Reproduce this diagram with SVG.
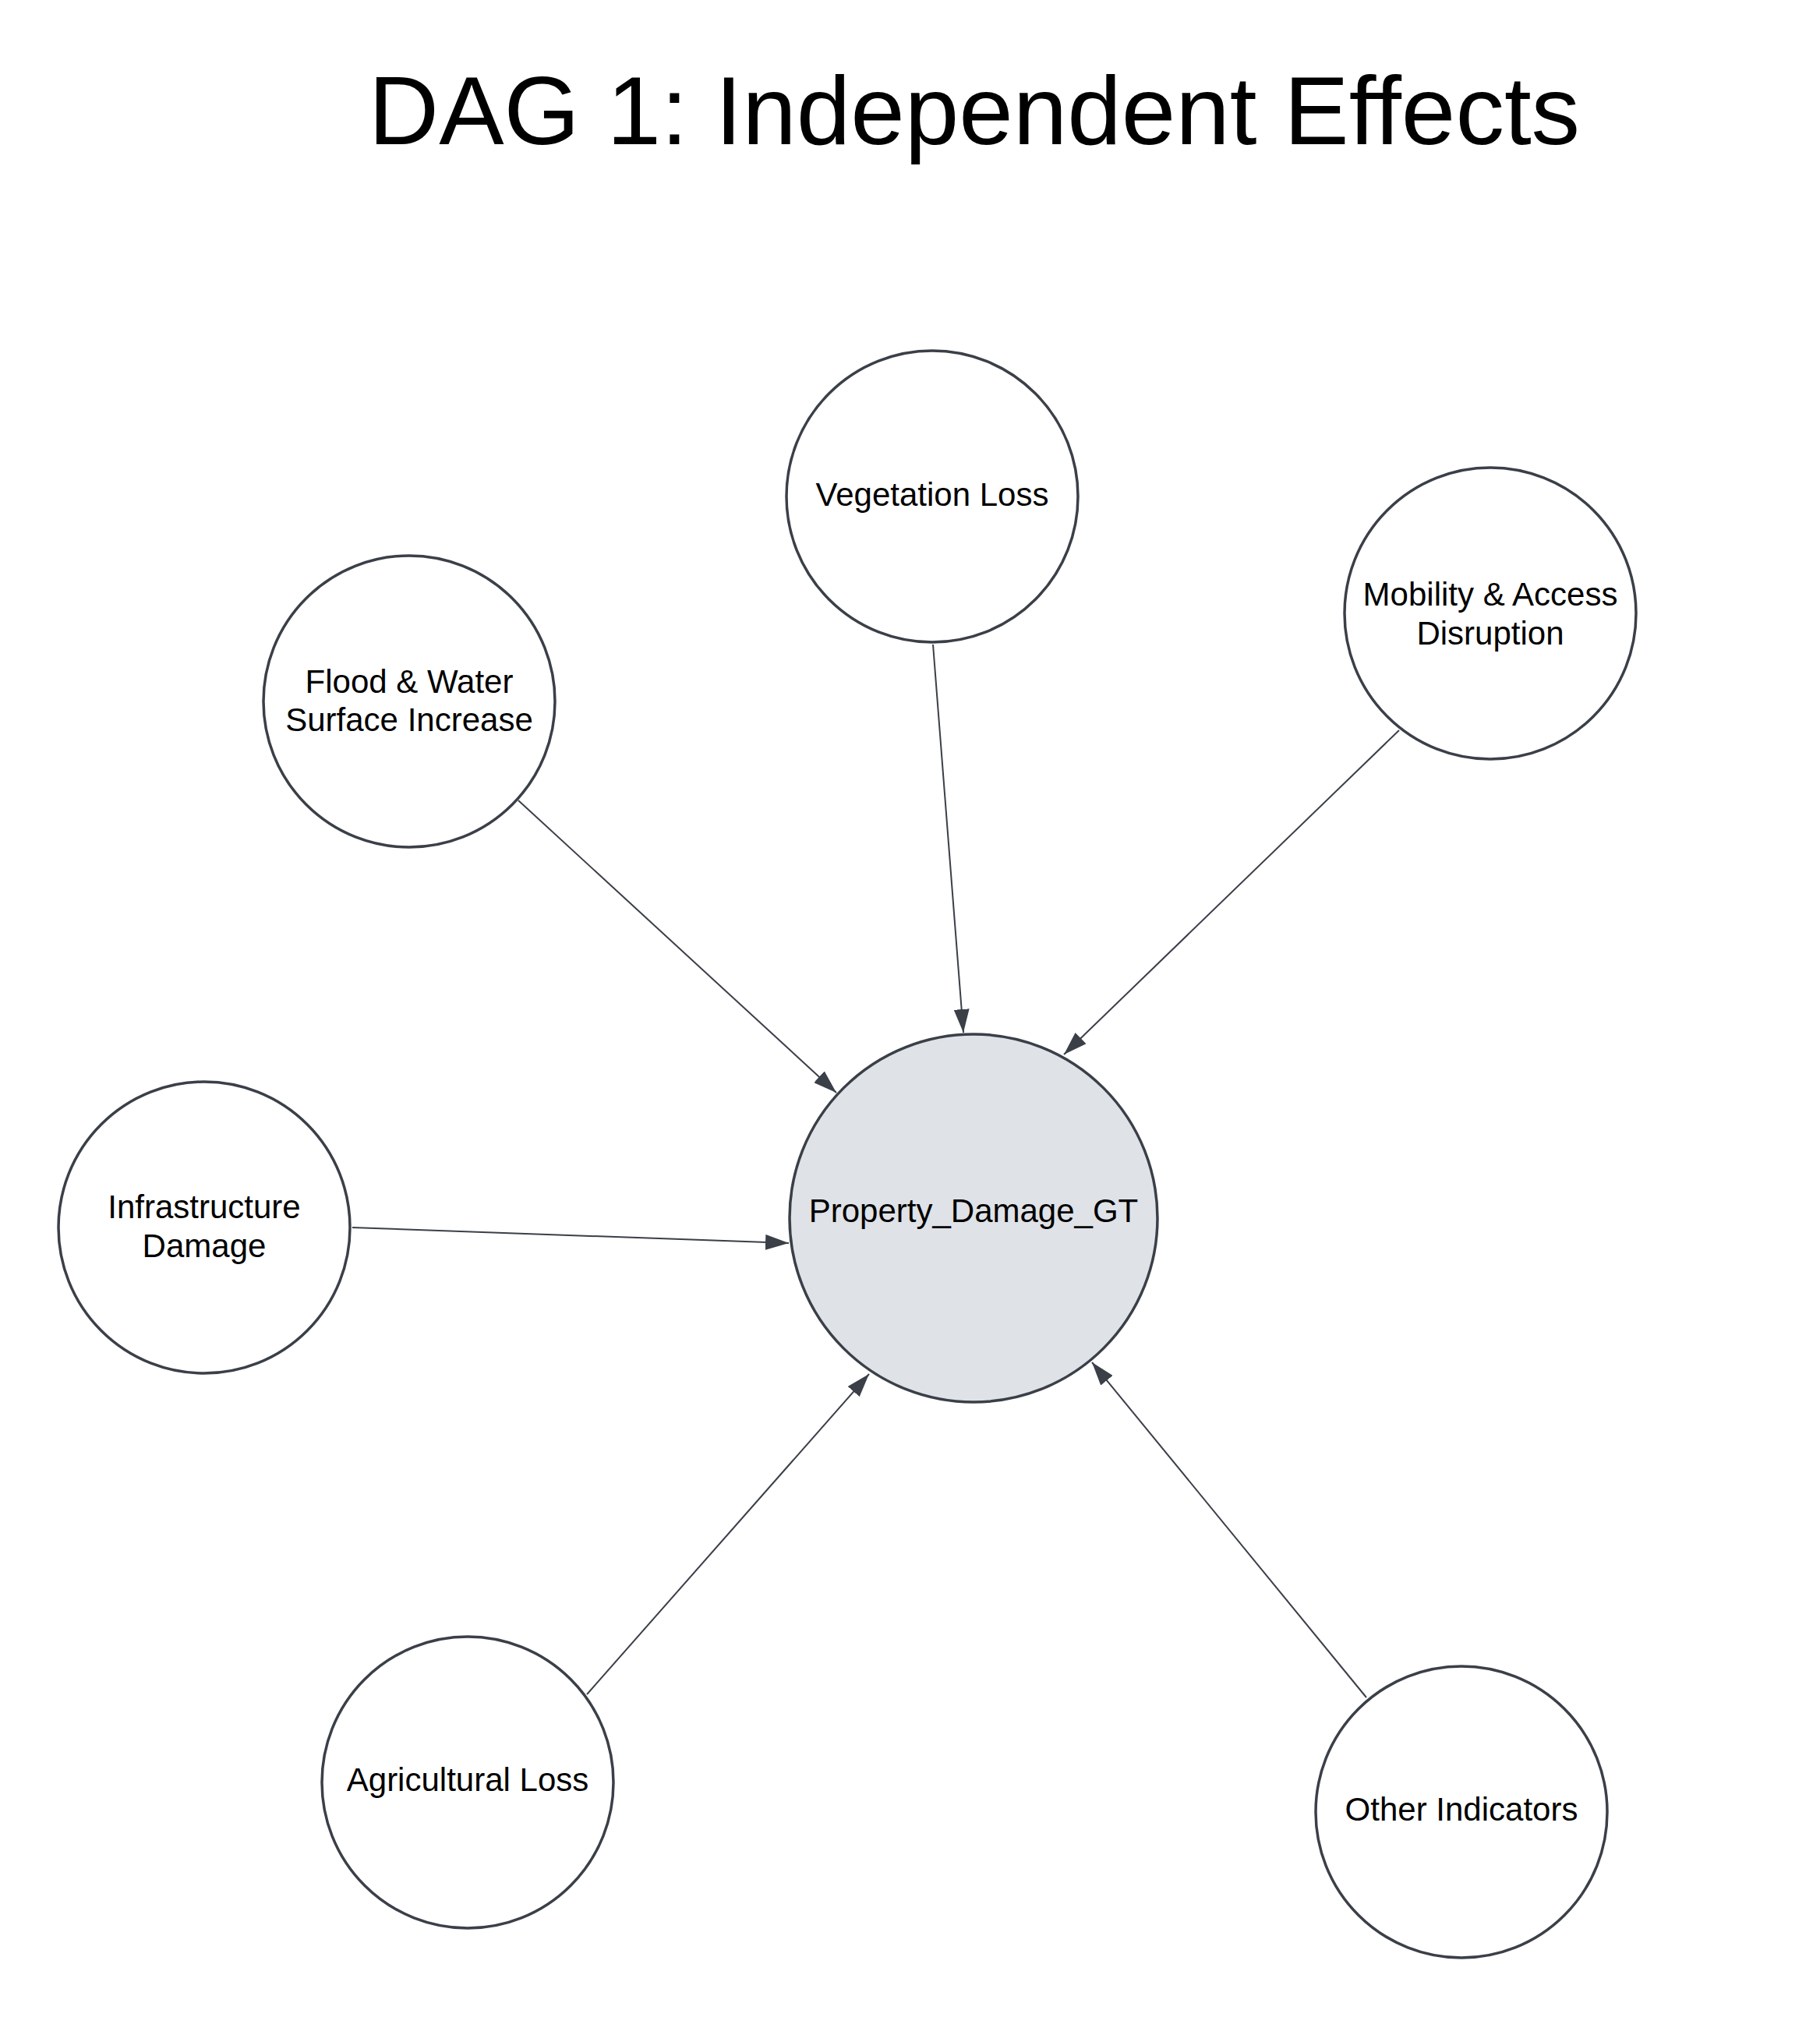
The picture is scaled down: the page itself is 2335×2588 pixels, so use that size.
<svg xmlns="http://www.w3.org/2000/svg" width="2335" height="2588" viewBox="0 0 2335 2588">
  <style>
    .node { fill: #ffffff; stroke: #3a3f48; stroke-width: 3.5; }
    .target { fill: #dfe2e7; stroke: #3a3f48; stroke-width: 3.5; }
    .lbl { font-family: "Liberation Sans", Arial, sans-serif; font-size: 42px; fill: #000000; text-anchor: middle; }
    .title { font-family: "Liberation Sans", Arial, sans-serif; font-size: 125px; fill: #000000; text-anchor: middle; }
    .edge { fill: none; stroke: #3a3f48; stroke-width: 2; marker-end: url(#arrow); }
  </style>
  <defs>
    <marker id="arrow" markerUnits="userSpaceOnUse" markerWidth="30" markerHeight="20" refX="30" refY="10" orient="auto" viewBox="0 0 30 20">
      <path d="M0,0 L30,10 L0,20 Z" fill="#3a3f48"/>
    </marker>
  </defs>
  <rect width="2335" height="2588" fill="#ffffff"/>
  <text class="title" x="1250" y="185">DAG 1: Independent Effects</text>

  <g id="connectors">
    <path class="edge" d="M665,1027 L1073,1402"/>
    <path class="edge" d="M1197,827 L1236,1325"/>
    <path class="edge" d="M1795,937 L1365,1353"/>
    <path class="edge" d="M452,1575 L1012,1595"/>
    <path class="edge" d="M753,2174 L1115,1763"/>
    <path class="edge" d="M1753,2178 L1401,1748"/>
  </g>

  <g id="node-vegetation">
    <circle class="node" cx="1196" cy="637" r="187"/>
    <text class="lbl" x="1196" y="649">Vegetation Loss</text>
  </g>
  <g id="node-flood">
    <circle class="node" cx="525" cy="900" r="187"/>
    <text class="lbl" x="525" y="889">Flood &amp; Water</text>
    <text class="lbl" x="525" y="938">Surface Increase</text>
  </g>
  <g id="node-mobility">
    <circle class="node" cx="1912" cy="787" r="187"/>
    <text class="lbl" x="1912" y="777">Mobility &amp; Access</text>
    <text class="lbl" x="1912" y="827">Disruption</text>
  </g>
  <g id="node-infrastructure">
    <circle class="node" cx="262" cy="1575" r="187"/>
    <text class="lbl" x="262" y="1563">Infrastructure</text>
    <text class="lbl" x="262" y="1613">Damage</text>
  </g>
  <g id="node-property">
    <circle class="target" cx="1249" cy="1563" r="236"/>
    <text class="lbl" x="1249" y="1568">Property_Damage_GT</text>
  </g>
  <g id="node-agricultural">
    <circle class="node" cx="600" cy="2287" r="187"/>
    <text class="lbl" x="600" y="2298">Agricultural Loss</text>
  </g>
  <g id="node-other">
    <circle class="node" cx="1875" cy="2325" r="187"/>
    <text class="lbl" x="1875" y="2336">Other Indicators</text>
  </g>
</svg>
